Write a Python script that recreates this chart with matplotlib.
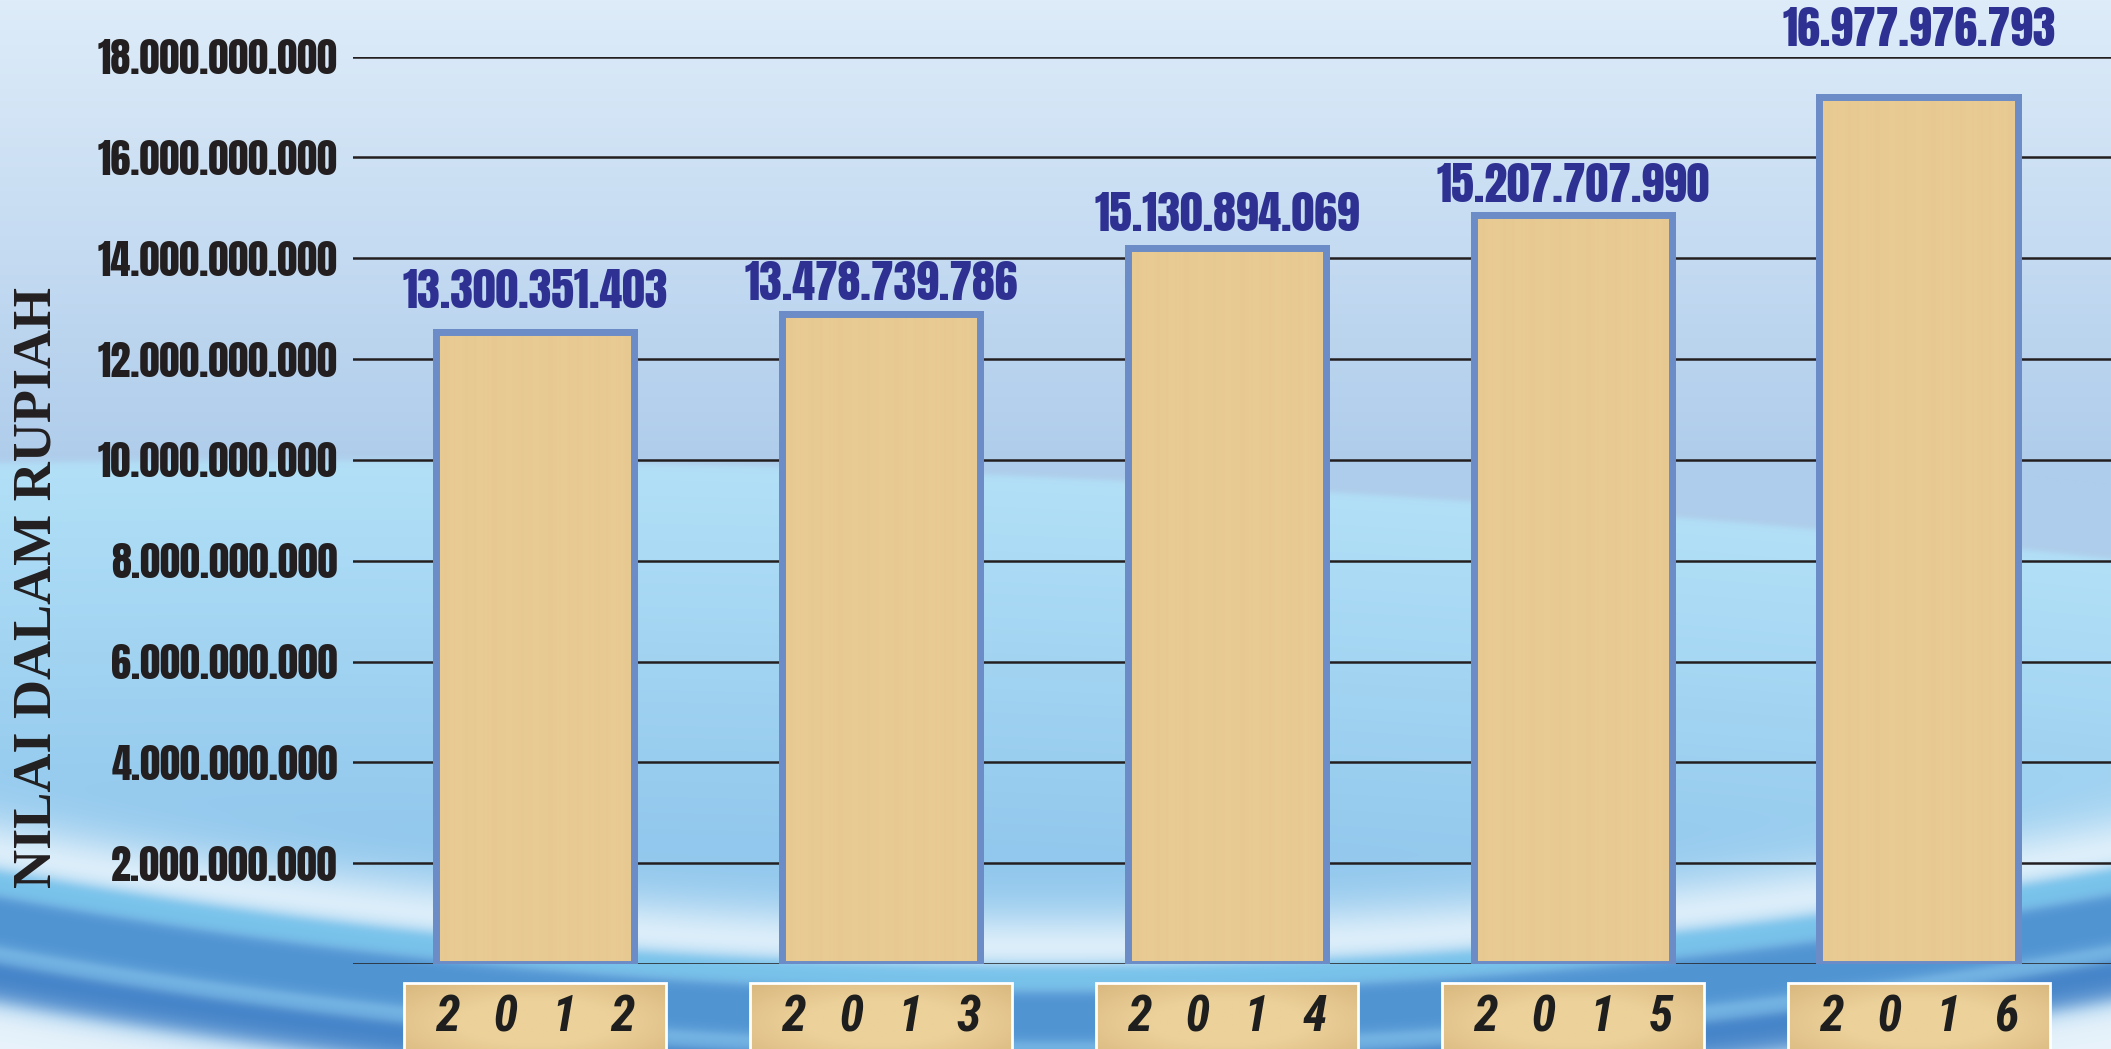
import numpy as np
import matplotlib
matplotlib.use("Agg")
import matplotlib.pyplot as plt
from matplotlib.patches import Rectangle
from matplotlib.ticker import FuncFormatter

# Data
years = ["2012", "2013", "2014", "2015", "2016"]
bar_heights = [12.54e9, 12.89e9, 14.20e9, 14.86e9, 17.19e9]  # drawn heights
bar_labels = ["13.300.351.403", "13.478.739.786", "15.130.894.069",
              "15.207.707.990", "16.977.976.793"]
y_ticks = [0, 2e9, 4e9, 6e9, 8e9, 10e9, 12e9, 14e9, 16e9, 18e9]
y_title = "NILAI DALAM RUPIAH"

W, H = 2111, 1049
condensed = ["Anton", "Liberation Sans", "DejaVu Sans"]
year_font = ["Roboto Condensed", "Liberation Sans", "DejaVu Sans"]


def sig(z):
    return 1.0 / (1.0 + np.exp(-z))


def mix(img, color, w):
    c = np.array(color, dtype=float) / 255.0
    return img * (1 - w[..., None]) + c * w[..., None]


# Background: sky gradient with a blue swoosh at the bottom
yy, xx = np.mgrid[0:H, 0:W].astype(float)
t = np.clip(yy / 470.0, 0, 1)[..., None]
top = np.array([222, 236, 249]) / 255.0
mid = np.array([174, 204, 235]) / 255.0
img = top * (1 - t) + mid * t

horizon = 460 + 3e-5 * (xx - 300) ** 2
low_t = np.clip((yy - horizon) / 380.0, 0, 1)
lower = mix(np.ones_like(img) * np.array([178, 224, 247]) / 255.0,
            (146, 200, 237), low_t)
w_low = sig((yy - horizon) / 2.0)
img = img * (1 - w_low[..., None]) + lower * w_low[..., None]

crest = 965 - 8.6e-5 * (xx - 1050) ** 2
d = yy - crest
img = mix(img, (238, 247, 253), 0.85 * np.exp(-((d + 12) / 42.0) ** 2) * sig(-d / 6.0))
img = mix(img, (120, 195, 235), sig((d - 2) / 3.0) * sig((26 - d) / 3.0))
img = mix(img, (80, 148, 210), sig((d - 26) / 3.0) * sig((80 - d) / 4.0))
img = mix(img, (112, 178, 226), sig((d - 80) / 3.0) * sig((92 - d) / 3.0))
img = mix(img, (66, 130, 200), sig((d - 92) / 3.0) * sig((135 - d) / 5.0))
img = mix(img, (232, 243, 251), sig((d - 135) / 8.0))
img = np.clip(img, 0, 1)

fig = plt.figure(figsize=(W / 100, H / 100), dpi=100)
bg = fig.add_axes([0, 0, 1, 1])
bg.imshow(img, aspect="auto", extent=(0, 1, 0, 1), interpolation="bilinear")
bg.set_axis_off()

# Main axes
ax_left, ax_bottom = 353 / W, (H - 964) / H
ax_h_px = 964 - 56.5
ax = fig.add_axes([ax_left, ax_bottom, 1 - ax_left, ax_h_px / H])
ax.patch.set_alpha(0)
x = np.arange(len(years))
py = 18e9 / ax_h_px  # data units per pixel (vertical)

ax.set_yticks(y_ticks)
ax.yaxis.set_major_formatter(FuncFormatter(
    lambda v, p: "" if v == 0 else f"{v:,.0f}".replace(",", ".")))
ax.yaxis.grid(True, color="#231F20", linewidth=1.8)
ax.set_axisbelow(True)
ax.tick_params(axis="y", length=0, pad=11, labelsize=29, labelcolor="#231F20")
ax.tick_params(axis="x", length=0, labelbottom=False)
for lbl in ax.get_yticklabels():
    lbl.set_family(condensed)
for s in ax.spines.values():
    s.set_visible(False)

# Bars with a soft wood-grain fill
bars = ax.bar(x, bar_heights, width=0.575, color="#E8C891",
              edgecolor="#6B8CC7", linewidth=5, zorder=3)
gx = np.linspace(0, 1, 300)
grain = (0.5 + 0.25 * np.sin(gx * 47) + 0.15 * np.sin(gx * 131 + 1.3)
         + 0.1 * np.sin(gx * 293 + 0.4))
wood = mix(np.ones((1, 300, 3)) * np.array([233, 203, 148]) / 255.0,
           (224, 192, 136), (grain[None, :] * 0.25))
for b in bars:
    im = ax.imshow(wood, aspect="auto", interpolation="bilinear",
                   extent=(b.get_x(), b.get_x() + b.get_width(), 0, b.get_height()),
                   zorder=3.5)
    im.set_clip_path(b)
    ax.add_patch(Rectangle((b.get_x(), 0), b.get_width(), b.get_height(), fill=False,
                           edgecolor="#6B8CC7", linewidth=5, zorder=4))

# Value labels above the bars
label_gap_px = [40, 31, 34, 29, 68]
for i, (h, txt) in enumerate(zip(bar_heights, bar_labels)):
    ax.annotate(txt, xy=(x[i], h), xytext=(0, label_gap_px[i] * 0.72),
                textcoords="offset points", ha="center", va="center",
                fontsize=33, family=condensed, color="#2E3192",
                annotation_clip=False, zorder=6)

# Year boxes under the axis
box_w = 0.757
box_top = -19 * py
box_bot = -95 * py
parch_y, parch_x = np.mgrid[0:40, 0:120]
r = np.sqrt(((parch_x - 60) / 60.0) ** 2 + ((parch_y - 20) / 20.0) ** 2)
parch = mix(np.ones((40, 120, 3)) * np.array([236, 209, 154]) / 255.0,
            (212, 178, 120), np.clip((r - 0.6) / 0.8, 0, 1) * 0.8)
for i, yr in enumerate(years):
    ax.imshow(parch, aspect="auto", interpolation="bilinear",
              extent=(x[i] - box_w / 2, x[i] + box_w / 2, box_bot, box_top),
              zorder=5, clip_on=False)
    ax.add_patch(Rectangle((x[i] - box_w / 2, box_bot), box_w, box_top - box_bot,
                           fill=False, edgecolor="white", linewidth=2,
                           clip_on=False, zorder=5))
    ax.text(x[i], -54 * py, "   ".join(yr), ha="center", va="center",
            fontsize=36, fontweight="bold", fontstyle="italic",
            family=year_font, color="#1E1E1E", zorder=6, clip_on=False)

ax.set_xlim(-0.526, 4.555)
ax.set_ylim(0, 18e9)

fig.text(38 / W, 1 - 587 / H, y_title, rotation=90, ha="center", va="center",
         fontsize=39, fontweight="bold",
         family=["Liberation Serif", "DejaVu Serif"], color="#231F20")

fig.savefig("out.png", dpi=100)
